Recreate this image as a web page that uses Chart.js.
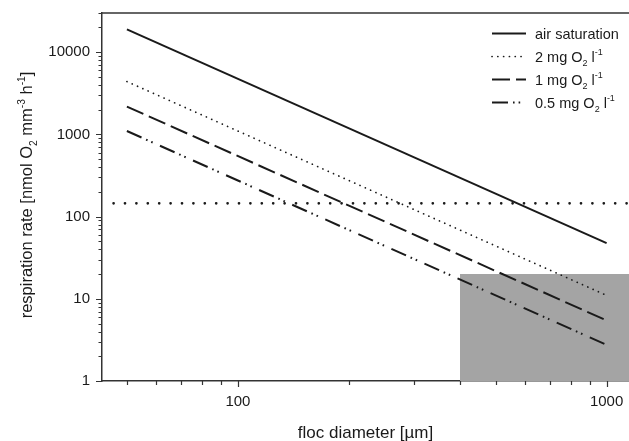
<!DOCTYPE html>
<html>
<head>
<meta charset="utf-8">
<script src="https://cdn.jsdelivr.net/npm/chart.js@4.4.0/dist/chart.umd.min.js"></script>
<style>
  html, body { margin: 0; padding: 0; background: #fff; }
</style>
</head>
<body>
<canvas id="respChart" width="629" height="441"></canvas>
<script>
// floc diameter (µm) at both ends of each model line
const diameters = [50, 1000];
// respiration rate (nmol O2 mm-3 h-1), slope -2 on log-log axes
const airSaturation = [19000, 47.5];
const o2Two = [4400, 11];
const o2One = [2180, 5.45];
const o2Half = [1100, 2.75];

// horizontal reference level
const levelX = [46, 1150];
const levelY = [145, 145];

// shaded box (bottom right)
const shadeX = [400, 1150];
const shadeY = [20, 20];

const xTicks = [100, 1000];
const yTicks = [1, 10, 100, 1000, 10000];

// label text split into [text, 'sub' | 'sup' | ''] runs
const legendLabels = [
  [['air saturation', '']],
  [['2 mg O', ''], ['2', 'sub'], [' l', ''], ['-1', 'sup']],
  [['1 mg O', ''], ['2', 'sub'], [' l', ''], ['-1', 'sup']],
  [['0.5 mg O', ''], ['2', 'sub'], [' l', ''], ['-1', 'sup']]
];
const yTitle = [['respiration rate [nmol O', ''], ['2', 'sub'], [' mm', ''], ['-3', 'sup'], [' h', ''], ['-1', 'sup'], [']', '']];
const xTitle = [['floc diameter [µm]', '']];

const FONT = '"Liberation Sans", Arial, Helvetica, sans-serif';
const INK = '#1a1a1a';

function pts(xs, ys) {
  return xs.map((x, i) => ({ x: x, y: ys[i] }));
}

function richWidth(ctx, parts, size) {
  let w = 0;
  parts.forEach(([t, k]) => {
    ctx.font = (k ? size * 0.62 : size) + 'px ' + FONT;
    w += ctx.measureText(t).width;
  });
  return w;
}

function drawRich(ctx, parts, x, y, size) {
  let cx = x;
  parts.forEach(([t, k]) => {
    const s = k ? size * 0.62 : size;
    const dy = k === 'sub' ? size * 0.28 : (k === 'sup' ? -size * 0.42 : 0);
    ctx.font = s + 'px ' + FONT;
    ctx.fillText(t, cx, y + dy);
    cx += ctx.measureText(t).width;
  });
}

// log ticks 2..9 of every decade inside [min, max]
function minorTicks(min, max) {
  const out = [];
  for (let d = Math.floor(Math.log10(min)); d <= Math.ceil(Math.log10(max)); d++) {
    for (let k = 2; k <= 9; k++) {
      const v = k * Math.pow(10, d);
      if (v >= min && v <= max) out.push(v);
    }
  }
  return out;
}

const decorations = {
  id: 'decorations',
  afterDraw(chart) {
    const ctx = chart.ctx;
    const area = chart.chartArea;
    const xs = chart.scales.x;
    const ys = chart.scales.y;
    ctx.save();

    // top frame line
    ctx.strokeStyle = '#333';
    ctx.lineWidth = 1.5;
    ctx.beginPath();
    ctx.moveTo(area.left, area.top);
    ctx.lineTo(area.right, area.top);
    ctx.stroke();

    // tick marks, drawn outward
    ctx.lineWidth = 1.2;
    ctx.beginPath();
    xTicks.forEach(v => {
      const p = Math.round(xs.getPixelForValue(v)) + 0.5;
      ctx.moveTo(p, area.bottom); ctx.lineTo(p, area.bottom + 6);
    });
    minorTicks(xs.min, xs.max).forEach(v => {
      const p = Math.round(xs.getPixelForValue(v)) + 0.5;
      ctx.moveTo(p, area.bottom); ctx.lineTo(p, area.bottom + 4);
    });
    yTicks.forEach(v => {
      const p = Math.round(ys.getPixelForValue(v)) + 0.5;
      ctx.moveTo(area.left, p); ctx.lineTo(area.left - 6, p);
    });
    minorTicks(ys.min, ys.max).forEach(v => {
      const p = Math.round(ys.getPixelForValue(v)) + 0.5;
      ctx.moveTo(area.left, p); ctx.lineTo(area.left - 3.5, p);
    });
    ctx.stroke();

    // legend, top right inside the plot
    ctx.fillStyle = INK;
    ctx.textBaseline = 'alphabetic';
    legendLabels.forEach((parts, i) => {
      const ds = chart.data.datasets[i];
      const y = 33.5 + i * 23;
      ctx.save();
      ctx.strokeStyle = ds.borderColor;
      ctx.lineWidth = ds.borderWidth;
      ctx.lineCap = ds.borderCapStyle || 'butt';
      ctx.setLineDash(ds.borderDash || []);
      ctx.beginPath();
      ctx.moveTo(492, y);
      ctx.lineTo(526, y);
      ctx.stroke();
      ctx.restore();
      drawRich(ctx, parts, 535, y + 5, 14.5);
    });

    // axis titles
    const xw = richWidth(ctx, xTitle, 17);
    drawRich(ctx, xTitle, (area.left + area.right) / 2 - xw / 2, 438, 17);

    const yw = richWidth(ctx, yTitle, 16.5);
    ctx.translate(32, (area.top + area.bottom) / 2 - 2);
    ctx.rotate(-Math.PI / 2);
    drawRich(ctx, yTitle, -yw / 2, 0, 16.5);

    ctx.restore();
  }
};

const lineBase = { pointRadius: 0, fill: false, tension: 0, borderColor: INK };

new Chart(document.getElementById('respChart').getContext('2d'), {
  type: 'line',
  data: {
    datasets: [
      Object.assign({}, lineBase, { label: 'air saturation', data: pts(diameters, airSaturation), borderWidth: 2, order: 1 }),
      Object.assign({}, lineBase, { label: '2 mg', data: pts(diameters, o2Two), borderWidth: 1.7, borderDash: [0.1, 5.7], borderCapStyle: 'round', order: 1 }),
      Object.assign({}, lineBase, { label: '1 mg', data: pts(diameters, o2One), borderWidth: 2, borderDash: [18, 6], order: 1 }),
      Object.assign({}, lineBase, { label: '0.5 mg', data: pts(diameters, o2Half), borderWidth: 2, borderDash: [16, 5, 1.6, 4, 1.6, 8], order: 1 }),
      Object.assign({}, lineBase, { label: 'level', data: pts(levelX, levelY), borderWidth: 2.6, borderDash: [0.1, 11.3], borderCapStyle: 'round', order: 1 }),
      { label: 'shade', data: pts(shadeX, shadeY), pointRadius: 0, borderWidth: 0, fill: 'start', backgroundColor: '#a4a4a4', order: 5 }
    ]
  },
  options: {
    responsive: false,
    animation: false,
    devicePixelRatio: 1,
    layout: { padding: { top: 13, right: 0, left: 0, bottom: 0 } },
    plugins: { legend: { display: false }, tooltip: { enabled: false } },
    scales: {
      x: {
        type: 'logarithmic',
        min: 42.8,
        max: 1150,
        afterBuildTicks: s => { s.ticks = xTicks.map(v => ({ value: v })); },
        afterFit: s => { s.height = 60; s.paddingLeft = 0; s.paddingRight = 0; },
        grid: { display: true, drawOnChartArea: false, drawTicks: false },
        border: { display: true, color: '#333', width: 1.5 },
        ticks: { color: INK, padding: 12, maxRotation: 0, font: { family: FONT, size: 15 }, callback: v => String(v) }
      },
      y: {
        type: 'logarithmic',
        min: 1,
        max: 30000,
        afterBuildTicks: s => { s.ticks = yTicks.map(v => ({ value: v })); },
        afterFit: s => { s.width = 102; s.paddingTop = 0; s.paddingBottom = 0; },
        grid: { display: true, drawOnChartArea: false, drawTicks: false },
        border: { display: true, color: '#333', width: 1.5 },
        ticks: { color: INK, padding: 12, font: { family: FONT, size: 15 }, callback: v => String(v) }
      }
    }
  },
  plugins: [decorations]
});
</script>
</body>
</html>
